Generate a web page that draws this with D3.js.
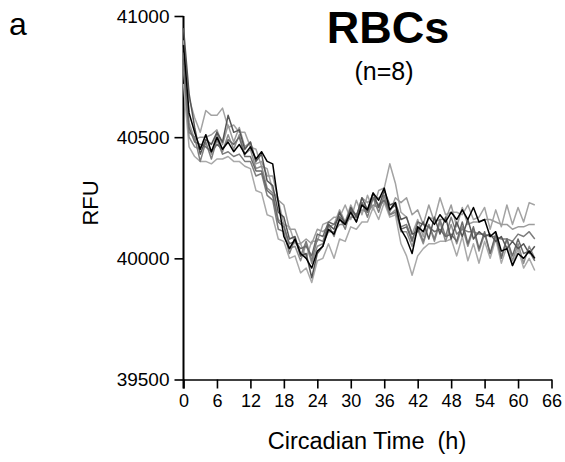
<!DOCTYPE html>
<html>
  <head>
    <meta charset="UTF-8">
    <title>RBCs</title>
    <script src="https://d3js.org/d3.v7.min.js"></script>
    <style>
      body { margin: 0; background: #fff; }
      svg { font-family: "Liberation Sans", Arial, sans-serif; }
    </style>
  </head>

  <body>
    <div class="chart"></div>

    <script type="application/javascript">
      // hourly samples, CT 0..63
      const hours = d3.range(0, 64);
      const yTicks = [39500, 40000, 40500, 41000];
      const xTicks = d3.range(0, 67, 6);

      const s1 = [40880, 40600, 40520, 40450, 40510, 40440, 40500, 40450, 40480, 40440,
                  40470, 40430, 40460, 40410, 40440, 40400, 40390, 40230, 40090, 40040,
                  40080, 40020, 40000, 39960, 40030, 40050, 40120, 40100, 40160, 40140,
                  40190, 40150, 40220, 40200, 40270, 40240, 40290, 40200, 40230, 40120,
                  40080, 40020, 40130, 40110, 40170, 40140, 40180, 40150, 40190, 40160,
                  40200, 40160, 40210, 40150, 40160, 40090, 40110, 40030, 40040, 39970,
                  40020, 40000, 40030, 40000];
      const s2 = [40950, 40680, 40540, 40430, 40490, 40470, 40520, 40480, 40590, 40520,
                  40530, 40450, 40480, 40400, 40430, 40320, 40300, 40190, 40170, 40080,
                  40090, 40010, 40020, 39920, 40020, 40050, 40140, 40120, 40190, 40140,
                  40210, 40170, 40250, 40200, 40270, 40210, 40280, 40220, 40230, 40160,
                  40170, 40100, 40110, 40150, 40080, 40170, 40100, 40170, 40080, 40150,
                  40090, 40160, 40080, 40110, 40090, 40100, 40070, 40090, 40040, 40070,
                  40040, 40060, 40020, 40050];
      const s3 = [40820, 40540, 40480, 40470, 40460, 40440, 40470, 40450, 40490, 40470,
                  40500, 40420, 40420, 40360, 40360, 40280, 40260, 40150, 40130, 40060,
                  40070, 40040, 40050, 40010, 40100, 40090, 40150, 40140, 40170, 40150,
                  40200, 40180, 40230, 40190, 40250, 40220, 40240, 40200, 40220, 40120,
                  40130, 40070, 40150, 40140, 40130, 40110, 40120, 40090, 40100, 40070,
                  40150, 40060, 40130, 40040, 40110, 40020, 40100, 40000, 40080, 40010,
                  40080, 40020, 40030, 39990];
      const s4 = [40780, 40520, 40500, 40400, 40480, 40410, 40490, 40430, 40440, 40420,
                  40430, 40400, 40400, 40340, 40350, 40260, 40240, 40120, 40110, 40020,
                  40080, 40010, 40070, 39990, 40080, 40070, 40140, 40090, 40170, 40120,
                  40200, 40150, 40230, 40170, 40250, 40190, 40260, 40180, 40190, 40130,
                  40140, 40080, 40130, 40070, 40140, 40080, 40160, 40090, 40170, 40100,
                  40120, 40110, 40110, 40100, 40100, 40090, 40090, 40080, 40080, 40070,
                  40100, 40090, 40110, 40080];
      const s5 = [40900, 40660, 40580, 40520, 40610, 40590, 40590, 40620, 40540, 40550,
                  40520, 40520, 40460, 40450, 40380, 40370, 40280, 40240, 40140, 40130,
                  40060, 40060, 40000, 40070, 40070, 40140, 40150, 40170, 40170, 40220,
                  40160, 40240, 40180, 40260, 40200, 40280, 40290, 40390, 40310, 40190,
                  40170, 40100, 40160, 40090, 40170, 40160, 40250, 40180, 40190, 40190,
                  40180, 40220, 40160, 40170, 40210, 40120, 40200, 40130, 40220, 40140,
                  40210, 40150, 40230, 40220];
      const s6 = [40720, 40460, 40420, 40400, 40400, 40390, 40410, 40410, 40420, 40400,
                  40400, 40380, 40370, 40280, 40270, 40180, 40170, 40080, 40070, 40000,
                  40010, 39940, 39960, 39900, 39990, 40000, 40060, 40000, 40080, 40070,
                  40130, 40120, 40150, 40150, 40210, 40160, 40230, 40170, 40180, 40060,
                  40010, 39930, 40010, 40040, 40060, 40060, 40070, 40070, 40080, 40010,
                  40090, 39990, 40060, 39980, 40070, 40000, 40080, 39980, 40050, 39970,
                  40040, 39960, 40000, 39950];
      const s7 = [40850, 40560, 40490, 40500, 40500, 40510, 40530, 40470, 40550, 40480,
                  40540, 40460, 40480, 40390, 40400, 40340, 40340, 40240, 40220, 40120,
                  40120, 40060, 40080, 40060, 40120, 40110, 40130, 40140, 40200, 40150,
                  40220, 40170, 40250, 40230, 40250, 40250, 40260, 40190, 40250, 40230,
                  40250, 40180, 40200, 40140, 40220, 40150, 40160, 40160, 40220, 40130,
                  40210, 40140, 40150, 40150, 40160, 40160, 40150, 40140, 40140, 40120,
                  40130, 40130, 40140, 40140];
      const s8 = [40800, 40500, 40460, 40450, 40510, 40430, 40520, 40440, 40510, 40450,
                  40510, 40430, 40450, 40370, 40380, 40290, 40270, 40160, 40140, 40040,
                  40050, 39990, 40060, 39980, 40050, 40060, 40110, 40110, 40140, 40140,
                  40170, 40170, 40200, 40190, 40220, 40210, 40240, 40180, 40200, 40110,
                  40110, 40050, 40120, 40060, 40140, 40070, 40150, 40070, 40140, 40060,
                  40130, 40050, 40120, 40030, 40100, 40020, 40090, 40010, 40080, 39990,
                  40060, 39980, 40050, 40000];

      // light ones first so the dark ones sit on top
      const series = [
        { values: s6, color: "#a9a9a9" },
        { values: s5, color: "#a3a3a3" },
        { values: s7, color: "#9c9c9c" },
        { values: s8, color: "#8e8e8e" },
        { values: s4, color: "#7d7d7d" },
        { values: s3, color: "#6a6a6a" },
        { values: s2, color: "#555555" },
        { values: s1, color: "#000000" }
      ];

      const width = 565, height = 462;
      const svg = d3.select(".chart").append("svg")
              .attr("width", width)
              .attr("height", height);

      const x = d3.scaleLinear().domain([0, 66]).range([183.5, 551.5]);
      const y = d3.scaleLinear().domain([39500, 41000]).range([379.5, 16]);

      const yAxis = d3.axisLeft(y)
              .tickValues(yTicks)
              .tickFormat(d3.format("d"))
              .tickSize(9)
              .tickPadding(5)
              .tickSizeOuter(0);
      const yg = svg.append("g")
              .attr("transform", `translate(${x(0)},0)`)
              .call(yAxis);
      yg.select(".domain").attr("d", `M0,${y(41000)}V${y(39500) + 9}`);

      const xAxis = d3.axisBottom(x)
              .tickValues(xTicks)
              .tickSize(9)
              .tickPadding(6)
              .tickSizeOuter(0);
      const xg = svg.append("g")
              .attr("transform", `translate(0,${y(39500)})`)
              .call(xAxis);

      svg.selectAll(".tick text")
              .attr("fill", "#000")
              .style("font-size", "18px");
      yg.selectAll(".tick text").style("font-size", "19px");
      svg.selectAll(".domain, .tick line")
              .attr("stroke", "#000")
              .attr("stroke-width", 1.6);
      yg.select(".domain").attr("stroke-width", 2);

      const line = d3.line()
              .x((d, i) => x(hours[i]))
              .y(d => y(d));

      svg.append("g").selectAll("path")
              .data(series)
              .join("path")
              .attr("d", d => line(d.values))
              .attr("fill", "none")
              .attr("stroke", d => d.color)
              .attr("stroke-width", 1.5)
              .attr("stroke-linejoin", "round");

      svg.append("text")
              .attr("x", 367).attr("y", 449)
              .attr("text-anchor", "middle")
              .style("font-size", "23.5px")
              .text("Circadian Time\u00a0 (h)");

      svg.append("text")
              .attr("transform", "translate(98,203) rotate(-90)")
              .attr("text-anchor", "middle")
              .style("font-size", "22px")
              .text("RFU");

      svg.append("text")
              .attr("x", 9).attr("y", 35)
              .style("font-size", "32px")
              .text("a");

      svg.append("text")
              .attr("x", 388).attr("y", 43)
              .attr("text-anchor", "middle")
              .style("font-size", "45px")
              .style("font-weight", "bold")
              .text("RBCs");

      svg.append("text")
              .attr("x", 384).attr("y", 80)
              .attr("text-anchor", "middle")
              .style("font-size", "25px")
              .text("(n=8)");
    </script>
  </body>
</html>
